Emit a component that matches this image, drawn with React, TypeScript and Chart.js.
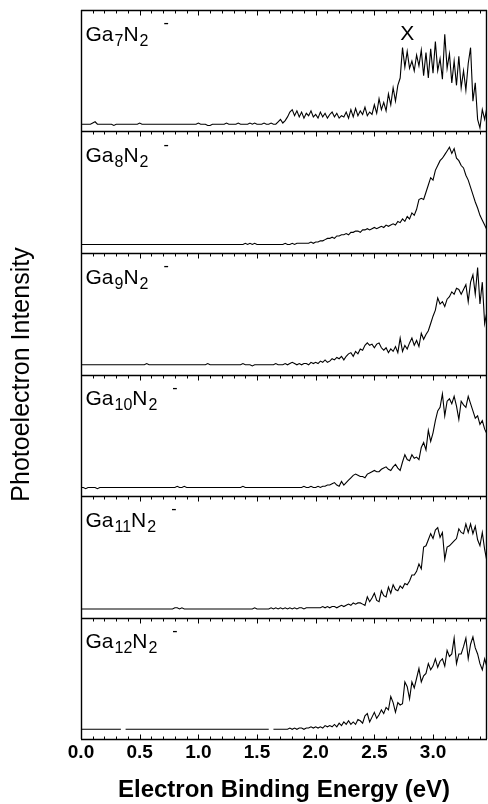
import React, { useEffect, useRef } from "react";
import { Chart, registerables } from "chart.js";

Chart.register(...registerables);

// ---- data -------------------------------------------------------------
// Spectra sampled every 0.02 eV from 0.00 eV to 3.46 eV (174 samples).
// Intensity units: 100 = full height of one panel.
const ENERGY_STEP = 0.02;
const X_MIN = 0;
const X_MAX = 3.46;
const X_TICKS = [0, 0.5, 1.0, 1.5, 2.0, 2.5, 3.0];
const MINOR_STEP = 0.1;
const X_TITLE = "Electron Binding Energy (eV)";
const Y_TITLE = "Photoelectron Intensity";
const PEAK_MARK = "X";
const PEAK_MARK_ENERGY = 2.78;

const CLUSTER_N = ["7", "8", "9", "10", "11", "12"];

const GA7N2 = [
  6,6,6,6,6,7,8,6,6,6,
  6,6,6,6,5,6,6,6,6,6,
  6,6,6,6,6,7,6,6,6,6,
  6,6,6,6,6,6,6,6,6,6,
  6,6,6,6,6,6,6,6,6,6,
  7,6,6,6,5,5,6,6,6,6,
  6,6,7,6,6,6,6,7,6,6,
  6,6,7,6,7,6,
  6,6,7,6,6,7,6,6,8,10,
  7,9,12,16,18,13,17,12,16,11,
  15,13,17,12,14,11,16,12,15,11,
  14,16,12,15,11,13,12,16,11,18,
  12,19,13,17,14,20,13,16,14,22,
  15,27,18,24,17,31,22,36,25,38,
  44,69,53,66,52,58,50,63,54,67,
  46,65,44,68,48,74,50,60,43,80,
  52,64,40,58,38,62,36,50,34,56,
  69,25,40,10,3,18,10,20,
];

const GA8N2 = [
  7,7,7,7,7,7,7,7,7,7,
  7,7,7,7,7,7,7,7,7,7,
  7,7,7,7,7,7,7,7,7,7,
  7,7,7,7,7,7,7,7,7,7,
  7,7,7,7,7,7,7,7,7,7,
  7,7,7,7,7,7,7,7,7,7,
  7,7,7,7,7,7,7,7,7,7,
  8,7,8,7,8,7,
  7,7,7,7,7,7,7,7,7,7,
  7,8,7,7,8,7,8,8,8,8,
  8,8,9,8,9,9,10,10,11,12,
  12,13,12,14,14,15,15,16,15,17,
  17,18,18,17,19,19,20,19,20,21,
  20,21,22,21,23,22,23,24,23,26,
  25,28,26,30,28,33,31,36,44,45,
  44,50,56,62,60,68,72,76,78,81,
  84,87,82,86,78,76,72,70,64,60,
  54,48,42,37,31,27,23,19,
];

const GA9N2 = [
  8,8,8,8,8,8,8,8,8,8,
  8,8,8,8,8,8,8,8,8,8,
  8,8,8,8,8,8,8,8,9,8,
  8,8,8,8,8,8,8,8,8,8,
  8,8,8,8,8,8,8,8,8,8,
  8,8,8,8,9,8,8,8,8,8,
  8,8,8,8,8,8,8,8,8,9,
  8,8,8,7,8,8,
  8,8,8,8,8,8,8,9,8,8,
  8,9,8,9,10,9,8,9,8,9,
  9,8,10,9,10,9,11,10,12,10,
  11,13,12,14,13,15,12,15,17,18,
  15,19,17,21,20,24,26,24,25,22,
  25,26,22,20,22,18,21,19,23,18,
  30,19,24,21,26,30,24,28,23,34,
  29,33,36,42,48,53,63,58,60,56,
  62,64,68,66,71,70,66,70,74,60,
  76,82,66,88,58,76,42,52,
];

const GA10N2 = [
  7,7,6,7,7,7,7,6,7,7,
  7,7,7,7,7,7,7,7,7,7,
  7,7,7,7,7,7,7,7,7,7,
  7,7,7,7,7,7,7,7,7,7,
  7,8,7,7,8,7,7,7,7,7,
  7,7,7,7,7,7,7,7,7,7,
  7,7,7,7,7,7,7,7,7,8,
  7,7,7,7,7,7,
  7,7,7,7,7,7,7,7,7,7,
  7,7,7,7,7,7,7,7,7,8,
  7,7,8,7,7,8,7,8,8,9,
  9,10,11,9,8,12,9,11,13,15,
  17,18,17,16,16,15,18,19,20,21,
  20,20,22,23,24,22,21,24,26,23,
  21,28,34,30,29,34,31,32,30,40,
  44,38,54,45,52,62,70,73,84,66,
  78,80,76,82,74,63,78,75,73,82,
  76,70,64,66,59,62,55,51,
];

const GA11N2 = [
  7,7,7,7,7,7,7,7,7,7,
  7,7,7,7,7,7,7,7,7,7,
  7,7,7,7,7,7,7,7,7,7,
  7,7,7,7,7,7,7,7,7,7,
  8,8,7,8,7,7,7,7,7,7,
  7,7,7,7,7,7,7,7,7,7,
  7,7,7,7,7,7,7,7,7,7,
  7,7,7,7,8,7,
  7,7,7,7,7,8,7,8,7,8,
  7,8,7,8,7,8,7,8,8,7,
  8,8,8,8,8,8,8,9,8,9,
  8,9,9,8,9,10,9,10,11,10,
  12,11,12,12,11,10,17,13,16,20,
  14,13,22,18,17,25,20,27,23,22,
  26,24,28,27,30,35,35,38,44,40,
  58,59,64,69,65,72,74,66,70,48,
  58,59,61,63,65,73,70,69,77,70,
  77,69,75,64,59,70,56,46,
];

const GA12N2 = [
  8,8,8,8,8,8,8,8,8,8,
  8,8,8,8,8,8,8,8,null,8,
  8,8,8,8,8,8,8,8,8,8,
  8,8,8,8,8,8,8,8,8,8,
  8,8,8,8,8,8,8,8,8,8,
  8,8,8,8,8,8,8,8,8,8,
  8,8,8,8,8,8,8,8,8,8,
  8,8,8,8,8,8,
  8,8,8,8,8,null,8,8,8,8,
  8,8,8,9,8,9,8,9,9,8,
  9,9,10,9,10,9,10,9,11,10,
  11,10,12,10,13,11,14,12,15,12,
  14,12,16,15,13,19,21,14,18,22,
  17,20,24,21,26,24,35,30,22,30,
  28,29,47,43,33,47,42,50,58,47,
  52,54,62,57,60,66,59,64,66,60,
  73,68,70,83,62,70,70,76,83,66,
  78,84,75,70,62,57,66,59,
];

const SPECTRA = [GA7N2, GA8N2, GA9N2, GA10N2, GA11N2, GA12N2];
const PANEL_SPAN = 100;

const FONT = '"Liberation Sans", Arial, Helvetica, sans-serif';

const framePlugin = {
  id: "panelFrames",
  afterDatasetsDraw(chart: any) {
    const { ctx, chartArea: ca, scales } = chart;
    const xs = scales.x;
    const ys = scales.y;
    const n = SPECTRA.length;
    ctx.save();
    ctx.strokeStyle = "#000";
    ctx.fillStyle = "#000";

    // panel borders
    ctx.lineWidth = 1.4;
    ctx.beginPath();
    for (let k = 0; k <= n; k++) {
      const y = Math.round(ys.getPixelForValue(k * PANEL_SPAN)) + 0.5;
      ctx.moveTo(ca.left, y);
      ctx.lineTo(ca.right, y);
    }
    ctx.moveTo(Math.round(ca.left) + 0.5, ca.top);
    ctx.lineTo(Math.round(ca.left) + 0.5, ca.bottom);
    ctx.moveTo(Math.round(ca.right) - 0.5, ca.top);
    ctx.lineTo(Math.round(ca.right) - 0.5, ca.bottom);
    ctx.stroke();

    // inward ticks: top of every panel, bottom of last panel
    ctx.lineWidth = 1;
    ctx.beginPath();
    const nMinor = Math.floor(X_MAX / MINOR_STEP + 1e-6);
    for (let j = 0; j <= nMinor; j++) {
      const v = j * MINOR_STEP;
      const len = j % 5 === 0 ? 5 : 3;
      const px = Math.round(xs.getPixelForValue(v)) + 0.5;
      for (let k = 0; k < n; k++) {
        const top = Math.round(ys.getPixelForValue((n - k) * PANEL_SPAN)) + 0.5;
        ctx.moveTo(px, top);
        ctx.lineTo(px, top + len);
      }
      const bot = Math.round(ys.getPixelForValue(0)) + 0.5;
      ctx.moveTo(px, bot);
      ctx.lineTo(px, bot - len);
    }
    ctx.stroke();

    // panel labels Ga_nN_2^-
    ctx.textBaseline = "alphabetic";
    ctx.textAlign = "left";
    const big = `21px ${FONT}`;
    const small = `16px ${FONT}`;
    for (let k = 0; k < n; k++) {
      const top = ys.getPixelForValue((n - k) * PANEL_SPAN);
      const base = top + 30.5;
      let x = ca.left + 4.5;
      ctx.font = big;
      ctx.fillText("Ga", x, base);
      x += ctx.measureText("Ga").width + 1;
      ctx.font = small;
      ctx.fillText(CLUSTER_N[k], x, base + 5);
      x += ctx.measureText(CLUSTER_N[k]).width;
      ctx.font = big;
      ctx.fillText("N", x, base);
      x += ctx.measureText("N").width + 1;
      ctx.font = small;
      ctx.fillText("2", x, base + 5);
      x += ctx.measureText("2").width + 15;
      ctx.fillText("-", x, top + 18);
    }

    // peak marker
    ctx.font = `21px ${FONT}`;
    ctx.textAlign = "center";
    const topPanel = ys.getPixelForValue(n * PANEL_SPAN);
    ctx.fillText(PEAK_MARK, xs.getPixelForValue(PEAK_MARK_ENERGY), topPanel + 29.5);

    // axis titles
    ctx.font = `bold 24px ${FONT}`;
    ctx.textBaseline = "middle";
    ctx.fillText(X_TITLE, (ca.left + ca.right) / 2, 790);
    ctx.save();
    ctx.translate(22, (ca.top + ca.bottom) / 2);
    ctx.rotate(-Math.PI / 2);
    ctx.font = `25px ${FONT}`;
    ctx.fillText(Y_TITLE, 0, 0);
    ctx.restore();

    ctx.restore();
  },
};

export default function App() {
  const ref = useRef<HTMLCanvasElement | null>(null);

  useEffect(() => {
    if (!ref.current) return;
    const n = SPECTRA.length;
    const datasets = SPECTRA.map((series, idx) => {
      const offset = (n - 1 - idx) * PANEL_SPAN;
      return {
        label: `Ga${CLUSTER_N[idx]}N2-`,
        data: series.map((v, i) => ({
          x: i * ENERGY_STEP,
          y: v === null ? null : (v as number) + offset,
        })),
        borderColor: "#000",
        borderWidth: 1.1,
        pointRadius: 0,
        tension: 0,
        fill: false,
        spanGaps: false,
      };
    });

    const chart = new Chart(ref.current, {
      type: "line",
      data: { datasets },
      options: {
        animation: false,
        responsive: false,
        maintainAspectRatio: false,
        devicePixelRatio: 1,
        layout: { padding: { left: 0, top: 10, right: 1, bottom: 0 } },
        plugins: { legend: { display: false }, tooltip: { enabled: false } },
        scales: {
          x: {
            type: "linear",
            min: X_MIN,
            max: X_MAX,
            afterBuildTicks: (s: any) => {
              s.ticks = X_TICKS.map((v) => ({ value: v }));
            },
            afterFit: (s: any) => {
              s.height = 65;
            },
            ticks: {
              autoSkip: false,
              maxRotation: 0,
              padding: 2,
              color: "#000",
              font: { family: FONT, size: 19, weight: "bold" },
              callback: (v: any) => Number(v).toFixed(1),
            },
            grid: { display: false, drawTicks: false, tickLength: 0 },
            border: { display: false },
          },
          y: {
            type: "linear",
            min: 0,
            max: n * PANEL_SPAN,
            afterFit: (s: any) => {
              s.width = 81;
            },
            ticks: { display: false },
            grid: { display: false, drawTicks: false },
            border: { display: false },
          },
        },
      } as any,
      plugins: [framePlugin],
    });
    return () => chart.destroy();
  }, []);

  return (
    <div style={{ position: "absolute", left: 0, top: 0, width: 488, height: 804, background: "#fff" }}>
      <canvas ref={ref} width={488} height={804} style={{ display: "block" }} />
    </div>
  );
}
